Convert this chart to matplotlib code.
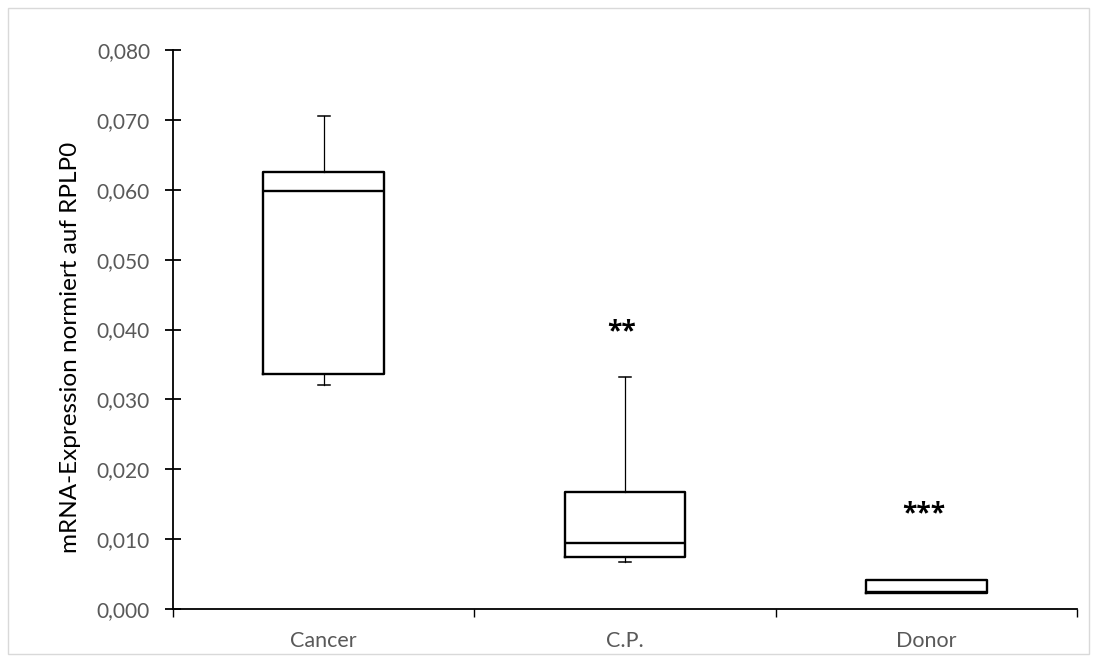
import matplotlib
matplotlib.use("Agg")
import matplotlib.pyplot as plt
from matplotlib.ticker import FuncFormatter, FixedLocator
from matplotlib.patches import Rectangle

categories = ["Cancer", "C.P.", "Donor"]
whisker_low = [0.0320, 0.0067, 0.0023]
q1 = [0.0337, 0.0075, 0.0023]
median = [0.0598, 0.0094, 0.0024]
q3 = [0.0625, 0.0167, 0.0042]
whisker_high = [0.0705, 0.0332, 0.0042]
significance = ["", "**", "***"]
sig_y = [None, 0.0396, 0.0136]
yticks = [0.0, 0.01, 0.02, 0.03, 0.04, 0.05, 0.06, 0.07, 0.08]

plt.rcParams['font.family'] = ['Lato', 'DejaVu Sans']

fig = plt.figure(figsize=(10.97, 6.62), dpi=100)
ax = fig.add_axes([173/1097, 1 - 609/662, (1077-173)/1097, (609-50)/662])

# outer chart border
fig.patches.append(Rectangle((8/1097, 8/662), (1089-8)/1097, (654-8)/662,
                             transform=fig.transFigure, fill=False,
                             edgecolor='#d9d9d9', linewidth=1.0))

stats = []
for i, c in enumerate(categories):
    stats.append(dict(label=c, whislo=whisker_low[i], q1=q1[i], med=median[i],
                      q3=q3[i], whishi=whisker_high[i], fliers=[]))

positions = list(range(1, len(categories) + 1))
ax.bxp(stats, positions=positions, widths=0.40, showfliers=False,
       boxprops=dict(color='black', linewidth=1.7),
       medianprops=dict(color='black', linewidth=1.7),
       whiskerprops=dict(color='black', linewidth=0.9),
       capprops=dict(color='black', linewidth=1.1),
       capwidths=0.04)

for i, s in enumerate(significance):
    if s:
        ax.text(positions[i] - 0.01, sig_y[i], s, ha='center', va='center',
                fontsize=19, fontweight='bold', color='black',
                family=['Open Sans', 'DejaVu Sans'])

ax.set_xlim(0.5, 3.5)
ax.set_ylim(0, 0.08)
ax.yaxis.set_major_locator(FixedLocator(yticks))
ax.yaxis.set_major_formatter(FuncFormatter(lambda v, p: f"{v:.3f}".replace('.', ',')))
ax.set_xticks(positions)
ax.set_xticklabels(categories)
ax.set_xticks([0.5, 1.5, 2.5, 3.5], minor=True)

for sp in ['top', 'right']:
    ax.spines[sp].set_visible(False)
ax.spines['left'].set_linewidth(1.3)
ax.spines['bottom'].set_linewidth(1.3)

ax.tick_params(axis='y', direction='inout', length=11, width=1.3,
               labelsize=15, labelcolor='#595959', pad=11)
ax.tick_params(axis='x', which='major', length=0, labelsize=15.5,
               labelcolor='#595959', pad=16)
ax.tick_params(axis='x', which='minor', direction='out', length=6, width=1.0)

ax.set_ylabel("mRNA-Expression normiert auf RPLP0", fontsize=17.5, color='black')
ax.yaxis.set_label_coords((81 - 173) / (1077 - 173), 0.468)

fig.savefig("out.png", dpi=100)
